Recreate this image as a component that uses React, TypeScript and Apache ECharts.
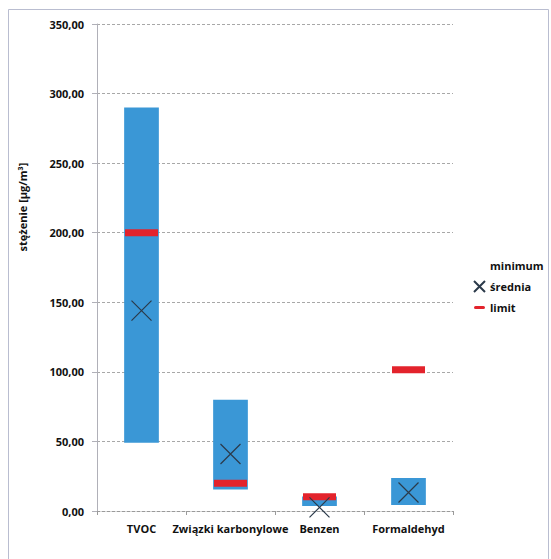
import React, { useEffect, useRef } from "react";
import * as echarts from "echarts";

const categories = ["TVOC", "Związki karbonylowe", "Benzen", "Formaldehyd"];
const minimumValues = [49, 15.5, 3.6, 4.3];
const maximumValues = [290, 80, 10.5, 23.7];
const meanValues = [144, 41, 2.6, 13.3];
const limitValues = [200, 20, 10.3, 101.5];
const yTicks = { min: 0, max: 350, interval: 50 };

const FONT = "'Open Sans', 'Noto Sans', sans-serif";

export default function App() {
  const ref = useRef<HTMLDivElement>(null);
  useEffect(() => {
    if (!ref.current) return;
    const chart = echarts.init(ref.current, null, { renderer: "svg" });
    const ranges = maximumValues.map((v, i) => v - minimumValues[i]);
    chart.setOption({
      animation: false,
      backgroundColor: "#ffffff",
      grid: { left: 97, right: 98, top: 24, bottom: 48 },
      legend: {
        orient: "vertical",
        left: 468,
        top: 255,
        itemWidth: 11,
        itemHeight: 11,
        itemGap: 9,
        textStyle: { fontFamily: FONT, fontWeight: "bold", fontSize: 11, color: "#111" },
        data: [
          { name: "minimum", icon: "rect" },
          { name: "średnia", icon: "path://M0,0L10,10M10,0L0,10" },
          { name: "limit", icon: "path://M1,0h10a1,1 0 0 1 0,4h-10a1,1 0 0 1 0,-4z" },
        ],
      },
      graphic: [
        {
          type: "rect",
          shape: { x: 8.5, y: 9.5, width: 540, height: 560 },
          style: { fill: "none", stroke: "#b9bdd0", lineWidth: 1 },
          silent: true,
        },
        {
          type: "text",
          x: 22,
          y: 207,
          rotation: Math.PI / 2,
          style: {
            text: "stężenie [µg/m³]",
            fontFamily: FONT,
            fontWeight: "bold",
            fontSize: 11,
            fill: "#111",
            align: "center",
            verticalAlign: "middle",
          },
        },
      ],
      xAxis: {
        type: "category",
        data: categories,
        axisLine: { lineStyle: { color: "#9a9a9a", type: [3, 2], width: 1 } },
        axisTick: { show: true, alignWithLabel: false, length: 4, lineStyle: { color: "#9a9a9a" } },
        axisLabel: {
          fontFamily: FONT,
          fontWeight: "bold",
          fontSize: 11,
          color: "#111",
          margin: 12,
          interval: 0,
        },
      },
      yAxis: {
        type: "value",
        min: yTicks.min,
        max: yTicks.max,
        interval: yTicks.interval,
        axisLine: { show: true, lineStyle: { color: "#b0b0b8", width: 1 } },
        axisTick: { show: true, length: 5, lineStyle: { color: "#b0b0b8" } },
        splitLine: { lineStyle: { color: "#a8a8a8", type: [3, 2], width: 1 } },
        axisLabel: {
          fontFamily: FONT,
          fontWeight: "bold",
          fontSize: 11,
          color: "#111",
          margin: 13,
          formatter: (v: number) => v.toFixed(2).replace(".", ","),
        },
      },
      series: [
        {
          name: "minimum",
          type: "bar",
          stack: "r",
          barWidth: "39%",
          data: minimumValues,
          itemStyle: { color: "rgba(0,0,0,0)" },
          silent: true,
        },
        {
          name: "zakres",
          type: "bar",
          stack: "r",
          barWidth: "39%",
          data: ranges,
          itemStyle: { color: "#3a97d6" },
        },
        {
          name: "limit",
          type: "scatter",
          data: limitValues,
          symbol: "rect",
          symbolSize: [33, 7],
          itemStyle: { color: "#e3232c", opacity: 1 },
          z: 4,
        },
        {
          name: "średnia",
          type: "scatter",
          data: meanValues,
          symbol: "path://M0,0L10,10M10,0L0,10",
          symbolSize: 20,
          itemStyle: { color: "rgba(0,0,0,0)", borderColor: "#2b3a4a", borderWidth: 1.2, opacity: 1 },
          z: 5,
        },
      ],
    });
    return () => chart.dispose();
  }, []);
  return (
    <div
      ref={ref}
      style={{ position: "absolute", left: 0, top: 0, width: 551, height: 559 }}
    />
  );
}
